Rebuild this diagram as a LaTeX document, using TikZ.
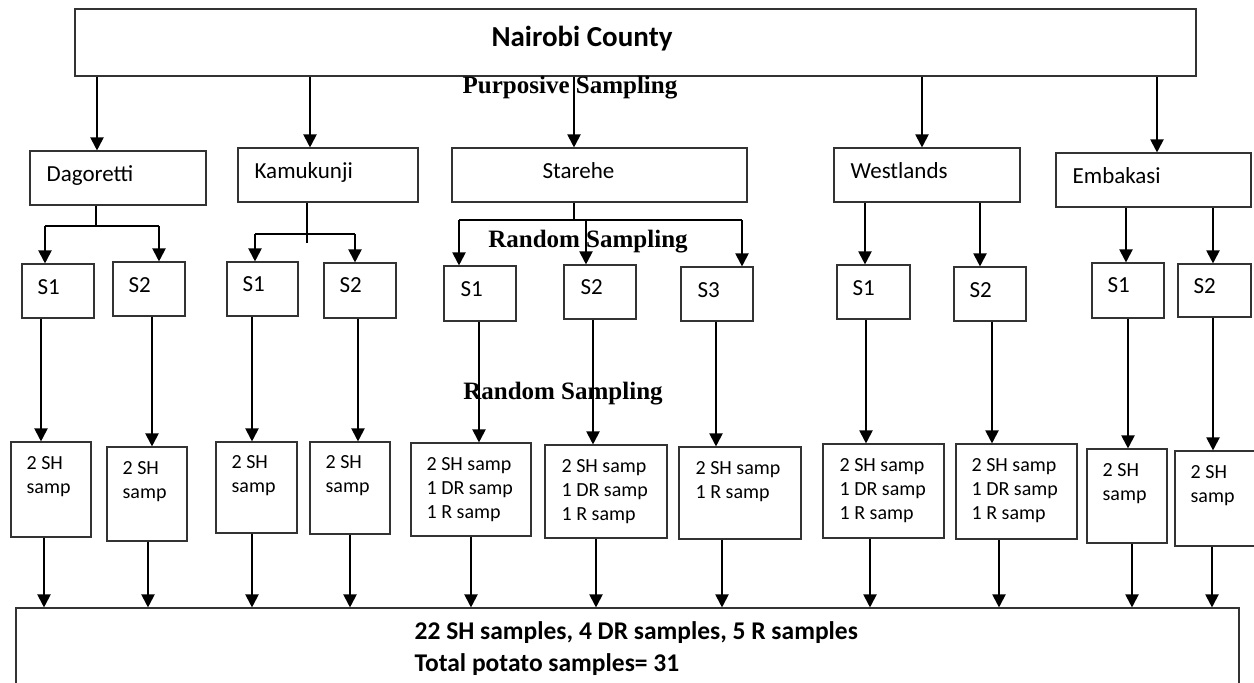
\documentclass[tikz,border=0pt]{standalone}
\usepackage{fontspec}
\setmainfont{Carlito}
\newfontfamily\timesfont{Liberation Serif}
\usetikzlibrary{arrows.meta, positioning, calc}

\begin{document}
\begin{tikzpicture}[x=1pt, y=-1pt,
  box/.style={draw=black!80, line width=1.1pt, inner sep=0pt},
  txt/.style={inner sep=0pt, align=left, font=\fontsize{23}{28}\selectfont},
  stxt/.style={inner sep=0pt, align=left, font=\fontsize{20}{24}\selectfont},
  arr/.style={line width=2pt, -{Triangle[length=13pt,width=13pt]}},
  stem/.style={line width=1.4pt},
  method/.style={inner sep=0pt, anchor=base, font=\timesfont\bfseries\fontsize{25}{30}\selectfont}]
\clip (0,0) rectangle (1254,683);

% Draw county box
\node[box, minimum width=1121pt, minimum height=67pt] (top) at (635.5,42.5) {};
\node[inner sep=0pt, anchor=base, font=\bfseries\fontsize{29}{34}\selectfont] (title) at (582,46) {Nairobi County};
\node[method] (purp) at (570,93) {Purposive Sampling};

% Draw sub-county boxes
\node[box, minimum width=176pt, minimum height=54pt] (dag) at (118,178) {};
\node[box, minimum width=180pt, minimum height=54pt] (kam) at (328,175) {};
\node[box, minimum width=295pt, minimum height=54pt] (sta) at (599.5,175) {};
\node[box, minimum width=186pt, minimum height=54pt] (wes) at (927,175) {};
\node[box, minimum width=195pt, minimum height=54pt] (emb) at (1153.5,180) {};
\node[txt, below right=15pt and 17pt of dag.north west] (dagt) {Dagoretti};
\node[txt, below right=15pt and 17pt of kam.north west] (kamt) {Kamukunji};
\node[txt, below right=15pt and 91pt of sta.north west] (stat) {Starehe};
\node[txt, below right=15pt and 17pt of wes.north west] (west) {Westlands};
\node[txt, below right=15pt and 17pt of emb.north west] (embt) {Embakasi};

% Draw site boxes
\node[box, minimum width=72pt, minimum height=54pt] (dag1) at (58,291) {};
\node[box, minimum width=72pt, minimum height=54pt] (dag2) at (149,289) {};
\node[box, minimum width=71pt, minimum height=54pt] (kam1) at (262.5,289) {};
\node[box, minimum width=72pt, minimum height=55pt] (kam2) at (360,290.5) {};
\node[box, minimum width=72pt, minimum height=55pt] (sta1) at (480,293.5) {};
\node[box, minimum width=72pt, minimum height=54pt] (sta2) at (600,292) {};
\node[box, minimum width=72pt, minimum height=54pt] (sta3) at (717,294) {};
\node[box, minimum width=73pt, minimum height=54pt] (wes1) at (873.5,292) {};
\node[box, minimum width=72pt, minimum height=54pt] (wes2) at (990,294) {};
\node[box, minimum width=72pt, minimum height=55pt] (emb1) at (1128,290.5) {};
\node[box, minimum width=73pt, minimum height=53pt] (emb2) at (1214.5,290.5) {};
\node[txt, below right=16pt and 16pt of dag1.north west] {S1};
\node[txt, below right=16pt and 16pt of dag2.north west] {S2};
\node[txt, below right=15pt and 16pt of kam1.north west] {S1};
\node[txt, below right=15pt and 16pt of kam2.north west] {S2};
\node[txt, below right=16pt and 17pt of sta1.north west] {S1};
\node[txt, below right=15pt and 17pt of sta2.north west] {S2};
\node[txt, below right=16pt and 17pt of sta3.north west] {S3};
\node[txt, below right=16pt and 16pt of wes1.north west] {S1};
\node[txt, below right=16pt and 16pt of wes2.north west] {S2};
\node[txt, below right=15pt and 16pt of emb1.north west] {S1};
\node[txt, below right=15pt and 16pt of emb2.north west] {S2};
\node[method] (rand1) at (588,247) {Random Sampling};
\node[method] (rand2) at (563,399) {Random Sampling};

% Draw sample boxes
\node[box, minimum width=80pt, minimum height=95pt] (dag1s) at (51,489.5) {};
\node[box, minimum width=80pt, minimum height=94pt] (dag2s) at (147,494) {};
\node[box, minimum width=81pt, minimum height=91pt] (kam1s) at (256.5,487.5) {};
\node[box, minimum width=80pt, minimum height=92pt] (kam2s) at (350,488) {};
\node[box, minimum width=120pt, minimum height=93pt] (sta1s) at (471,489.5) {};
\node[box, minimum width=122pt, minimum height=93pt] (sta2s) at (606,491.5) {};
\node[box, minimum width=122pt, minimum height=92pt] (sta3s) at (740,493) {};
\node[box, minimum width=121pt, minimum height=94pt] (wes1s) at (883.5,491) {};
\node[box, minimum width=121pt, minimum height=95pt] (wes2s) at (1016.5,491.5) {};
\node[box, minimum width=80pt, minimum height=94pt] (emb1s) at (1127,496) {};
\node[box, minimum width=87pt, minimum height=95pt] (emb2s) at (1218.5,498.5) {};
\node[stxt, below right=15pt and 16pt of dag1s.north west] {2 SH\\samp};
\node[stxt, below right=15pt and 16pt of dag2s.north west] {2 SH\\samp};
\node[stxt, below right=14pt and 16pt of kam1s.north west] {2 SH\\samp};
\node[stxt, below right=14pt and 16pt of kam2s.north west] {2 SH\\samp};
\node[stxt, below right=15pt and 16pt of sta1s.north west] {2 SH samp\\1 DR samp\\1 R samp};
\node[stxt, below right=15pt and 17pt of sta2s.north west] {2 SH samp\\1 DR samp\\1 R samp};
\node[stxt, below right=15pt and 17pt of sta3s.north west] {2 SH samp\\1 R samp};
\node[stxt, below right=15pt and 17pt of wes1s.north west] {2 SH samp\\1 DR samp\\1 R samp};
\node[stxt, below right=15pt and 16pt of wes2s.north west] {2 SH samp\\1 DR samp\\1 R samp};
\node[stxt, below right=15pt and 16pt of emb1s.north west] {2 SH\\samp};
\node[stxt, below right=15pt and 16pt of emb2s.north west] {2 SH\\samp};

% Draw total box
\node[box, minimum width=1223pt, minimum height=92pt] (total) at (627.5,654) {};
\node[inner sep=0pt, align=left, font=\bfseries\fontsize{25.5}{32}\selectfont,
  below right=14pt and 399pt of total.north west] (totalt)
  {22 SH samples, 4 DR samples, 5 R samples\\Total potato samples= 31};

% Draw arrows from county
\draw[arr] (top.south -| 97,0) -- (dag.north -| 97,0);
\draw[arr] (top.south -| 310,0) -- (kam.north -| 310,0);
\draw[arr] (top.south -| 574,0) -- (sta.north -| 574,0);
\draw[arr] (top.south -| 922,0) -- (wes.north -| 922,0);
\draw[arr] (top.south -| 1157,0) -- (emb.north -| 1157,0);

% Draw branches to sites
\coordinate (dagj) at (96,226);
\draw[stem] (dag.south -| dagj) -- (dagj);
\draw[stem] (dagj -| 45,0) -- (dagj -| 159,0);
\draw[arr] (dagj -| 45,0) -- (dag1.north -| 45,0);
\draw[arr] (dagj -| 159,0) -- (dag2.north -| 159,0);
\coordinate (kamj) at (307,234);
\draw[stem] (kam.south -| kamj) -- ++(0,40);
\draw[stem] (kamj -| 255,0) -- (kamj -| 355,0);
\draw[arr] (kamj -| 255,0) -- (kam1.north -| 255,0);
\draw[arr] (kamj -| 355,0) -- (kam2.north -| 355,0);
\coordinate (staj) at (574,220);
\draw[stem] (sta.south -| staj) -- (staj);
\draw[stem] (staj -| 459,0) -- (staj -| 742,0);
\draw[arr] (staj -| 459,0) -- (sta1.north -| 459,0);
\draw[arr] (staj -| 586,0) -- (sta2.north -| 586,0);
\draw[arr] (staj -| 742,0) -- (sta3.north -| 742,0);
\draw[arr] (wes.south -| 865,0) -- (wes1.north -| 865,0);
\draw[arr] (wes.south -| 980,0) -- (wes2.north -| 980,0);
\draw[arr] (emb.south -| 1126,0) -- (emb1.north -| 1126,0);
\draw[arr] (emb.south -| 1213,0) -- (emb2.north -| 1213,0);

% Draw arrows to samples
\draw[arr] (dag1.south -| 41,0) -- (dag1s.north -| 41,0);
\draw[arr] (dag2.south -| 152,0) -- (dag2s.north -| 152,0);
\draw[arr] (kam1.south -| 252,0) -- (kam1s.north -| 252,0);
\draw[arr] (kam2.south -| 358,0) -- (kam2s.north -| 358,0);
\draw[arr] (sta1.south -| 479,0) -- (sta1s.north -| 479,0);
\draw[arr] (sta2.south -| 593,0) -- (sta2s.north -| 593,0);
\draw[arr] (sta3.south -| 716,0) -- (sta3s.north -| 716,0);
\draw[arr] (wes1.south -| 866,0) -- (wes1s.north -| 866,0);
\draw[arr] (wes2.south -| 992,0) -- (wes2s.north -| 992,0);
\draw[arr] (emb1.south -| 1128,0) -- (emb1s.north -| 1128,0);
\draw[arr] (emb2.south -| 1213,0) -- (emb2s.north -| 1213,0);

% Draw arrows to total
\draw[arr] (dag1s.south -| 44,0) -- (total.north -| 44,0);
\draw[arr] (dag2s.south -| 148,0) -- (total.north -| 148,0);
\draw[arr] (kam1s.south -| 252,0) -- (total.north -| 252,0);
\draw[arr] (kam2s.south -| 350,0) -- (total.north -| 350,0);
\draw[arr] (sta1s.south -| 471,0) -- (total.north -| 471,0);
\draw[arr] (sta2s.south -| 596,0) -- (total.north -| 596,0);
\draw[arr] (sta3s.south -| 722,0) -- (total.north -| 722,0);
\draw[arr] (wes1s.south -| 870,0) -- (total.north -| 870,0);
\draw[arr] (wes2s.south -| 999,0) -- (total.north -| 999,0);
\draw[arr] (emb1s.south -| 1132,0) -- (total.north -| 1132,0);
\draw[arr] (emb2s.south -| 1212,0) -- (total.north -| 1212,0);
\end{tikzpicture}
\end{document}
